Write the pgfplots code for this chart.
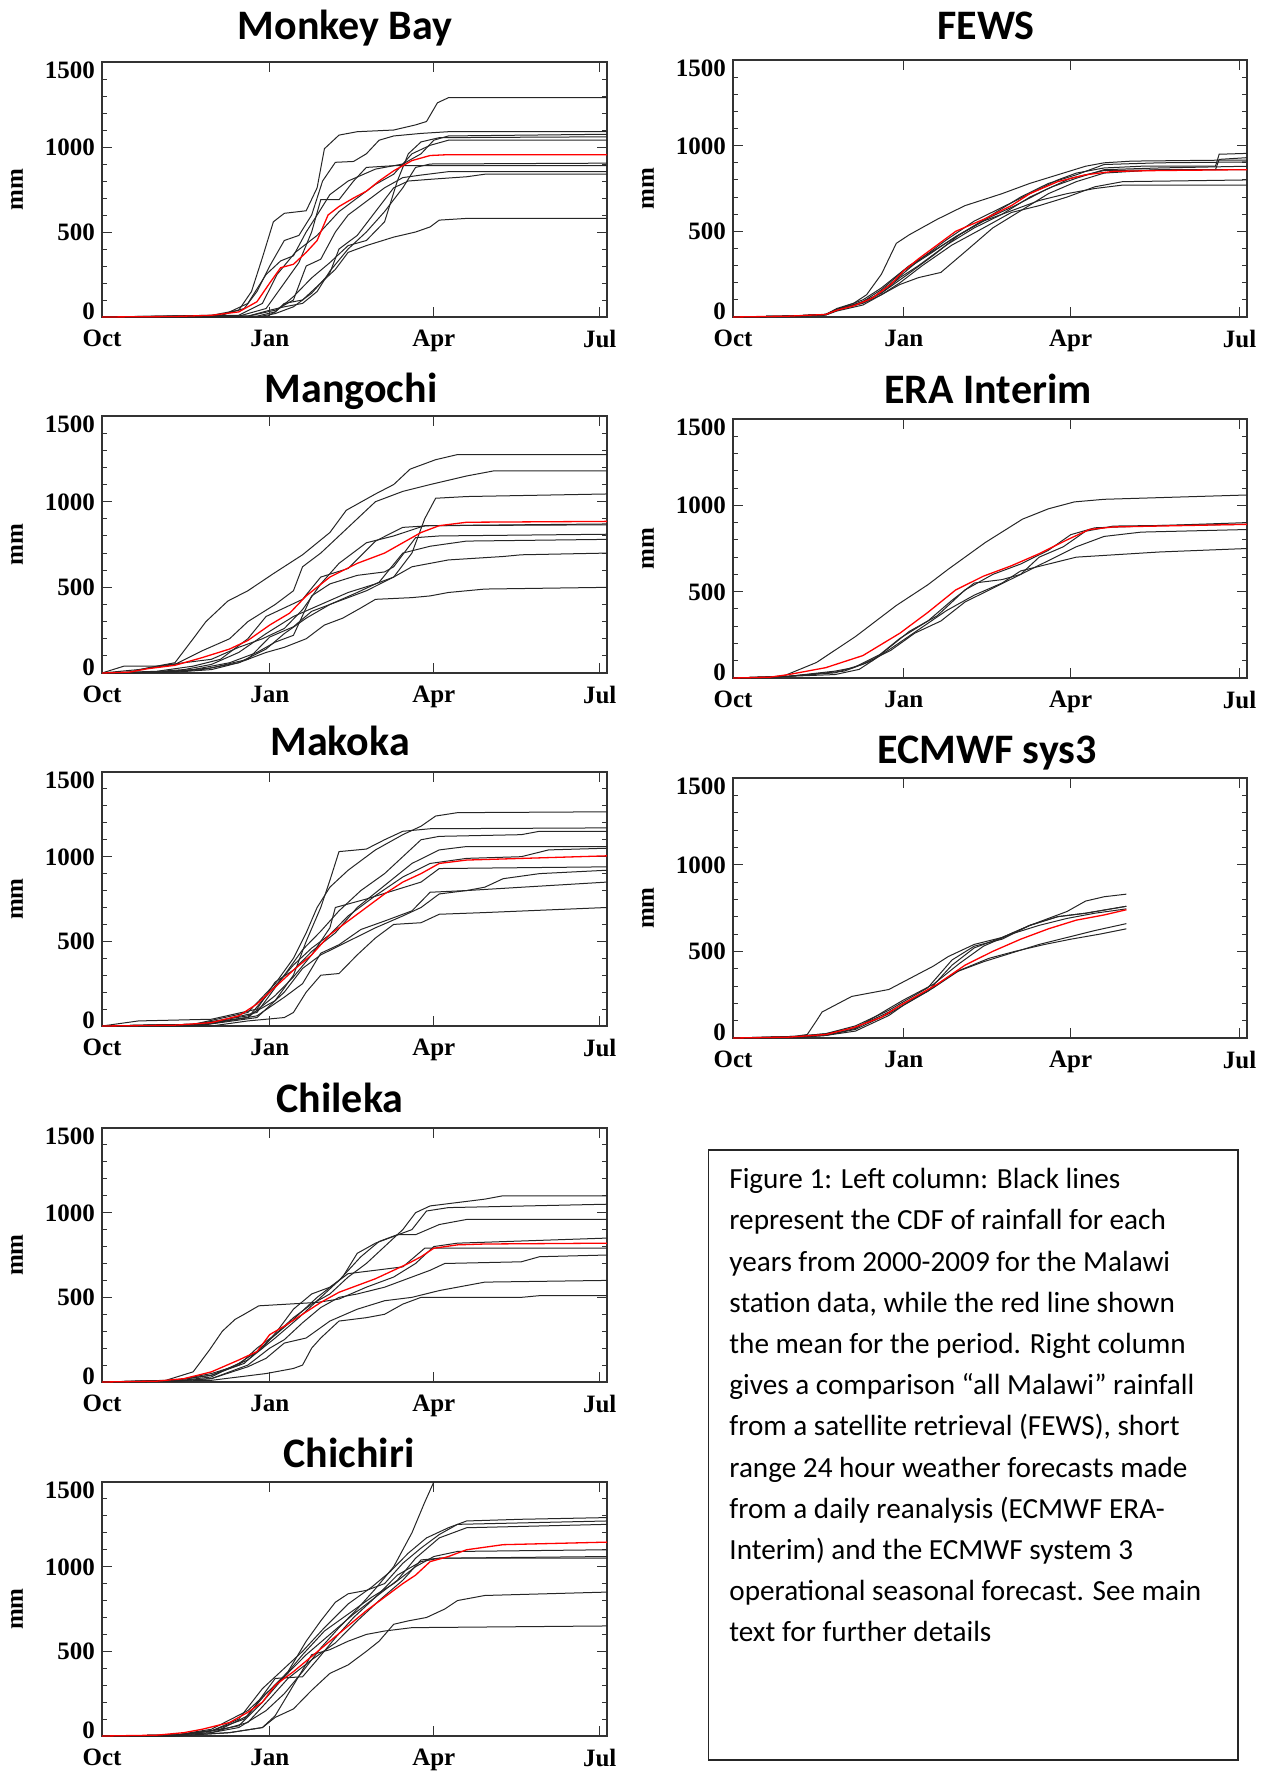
\documentclass[border=0pt]{standalone}
\usepackage{fontspec}
\setmainfont{Carlito}
\newfontfamily\tickfont{Liberation Serif}
\usepackage{pgfplots}
\pgfplotsset{compat=1.18}
\newcommand{\yl}[2]{\smash{\raisebox{#1}{#2}}}
\newcommand{\tf}{\tickfont\bfseries\fontsize{12.5}{14}\selectfont}
\newcommand{\ttl}{\bfseries\fontsize{21}{25}\selectfont}
\pgfplotsset{
  panel/.style={
    scale only axis, anchor=north west,
    xmin=0, xmax=277, ymin=0, ymax=1500,
    xtick={0,92,182,273}, xticklabels={Oct,Jan,Apr,Jul},
    ytick={0,500,1000,1500},
    yticklabels={\yl{-1pt}{0},\yl{-4.25pt}{500},\yl{-4.25pt}{1000},\yl{-8pt}{1500}},
    minor y tick num=4,
    tick align=inside, tick pos=both,
    major tick length=5pt, minor tick length=2.5pt,
    every tick/.style={black!80, line width=0.5pt},
    axis line style={black!80, line width=0.7pt},
    ticklabel style={font=\tf},
    xticklabel style={yshift=-3pt},
    ylabel={mm},
    every axis y label/.style={at={(axis description cs:0,0.5)}, xshift=-42.5pt, rotate=90, anchor=center, font=\tf},
    clip=true,
  },
  yr/.style={black!85, line width=0.5pt},
  mn/.style={red, line width=0.65pt},
}
\begin{document}
\begin{tikzpicture}
\useasboundingbox (0pt,0pt) rectangle (636pt,-887pt);
% titles
\node[anchor=base, font=\ttl] at (172.5pt,-19.5pt) {Monkey Bay};
\node[anchor=base, font=\ttl] at (493pt,-19.5pt) {FEWS};
\node[anchor=base, font=\ttl] at (175.5pt,-201pt) {Mangochi};
\node[anchor=base, font=\ttl] at (494pt,-201.5pt) {ERA Interim};
\node[anchor=base, font=\ttl] at (170pt,-377.5pt) {Makoka};
\node[anchor=base, font=\ttl] at (493.5pt,-381.5pt) {ECMWF sys3};
\node[anchor=base, font=\ttl] at (170pt,-556pt) {Chileka};
\node[anchor=base, font=\ttl] at (174.5pt,-733.5pt) {Chichiri};

% Monkey Bay
\begin{axis}[panel, at={(51pt,-31pt)}, width=252.5pt, height=127.5pt]
\addplot[yr] coordinates {(0,0)(60,10)(75,40)(82,150)(88,350)(94,560)(100,610)(112,625)(118,760)(122,990)(130,1070)(140,1090)(160,1100)(172,1130)(178,1150)(184,1260)(190,1290)(277,1290)};
\addplot[yr] coordinates {(0,0)(65,10)(78,50)(85,150)(92,300)(100,450)(108,480)(115,600)(121,800)(128,910)(138,915)(145,960)(152,1040)(160,1065)(175,1080)(190,1090)(277,1090)};
\addplot[yr] coordinates {(0,0)(85,5)(95,30)(105,120)(115,230)(125,320)(135,420)(145,450)(155,560)(162,800)(168,960)(175,1030)(185,1055)(277,1060)};
\addplot[yr] coordinates {(0,0)(75,10)(88,80)(96,250)(106,380)(118,480)(130,620)(140,700)(150,780)(160,840)(170,960)(180,1010)(190,1040)(277,1040)};
\addplot[yr] coordinates {(0,0)(75,5)(90,50)(100,200)(108,320)(115,500)(120,690)(130,690)(138,800)(145,880)(160,890)(277,890)};
\addplot[yr] coordinates {(0,0)(80,5)(95,40)(105,100)(112,300)(120,340)(128,500)(135,600)(145,680)(155,760)(165,820)(175,835)(190,855)(277,855)};
\addplot[yr] coordinates {(0,0)(85,0)(95,20)(105,60)(115,140)(125,260)(130,400)(140,480)(150,620)(160,760)(168,800)(180,810)(200,825)(210,840)(277,840)};
\addplot[yr] coordinates {(0,0)(90,0)(95,30)(100,80)(110,100)(120,200)(128,280)(135,380)(145,420)(160,470)(172,500)(180,530)(185,570)(200,580)(277,580)};
\addplot[yr] coordinates {(0,0)(65,5)(80,80)(90,250)(98,330)(105,360)(112,500)(118,600)(125,720)(135,800)(150,870)(165,900)(175,960)(182,1040)(190,1065)(277,1075)};
\addplot[yr] coordinates {(0,0)(80,5)(92,40)(100,60)(110,80)(118,150)(125,270)(135,400)(145,500)(155,620)(165,760)(172,880)(180,900)(277,905)};
\addplot[mn] coordinates {(0,0)(40,3)(60,10)(75,30)(85,90)(92,200)(98,290)(105,310)(112,380)(118,450)(124,600)(130,650)(138,700)(145,740)(152,800)(160,860)(170,920)(180,950)(190,955)(277,955)};
\end{axis}

% FEWS
\begin{axis}[panel, at={(366.5pt,-30pt)}, width=257pt, height=128.5pt]
\addplot[yr] coordinates {(0,0)(30,5)(50,15)(56,50)(65,80)(72,130)(80,250)(88,430)(95,480)(110,570)(125,650)(145,720)(160,780)(175,830)(190,880)(200,900)(215,910)(260,915)(277,915)};
\addplot[yr] coordinates {(0,0)(30,5)(50,15)(56,45)(65,70)(75,110)(88,220)(100,330)(115,450)(130,560)(145,640)(160,720)(175,800)(185,840)(200,870)(220,880)(260,880)(262,950)(277,955)};
\addplot[yr] coordinates {(0,0)(30,5)(50,15)(56,40)(70,90)(80,140)(90,230)(100,300)(115,420)(130,520)(145,600)(160,700)(172,760)(185,810)(200,860)(230,870)(277,880)};
\addplot[yr] coordinates {(0,0)(30,5)(50,15)(56,40)(70,80)(80,130)(90,190)(100,230)(112,260)(125,380)(140,520)(155,620)(170,720)(185,790)(200,840)(230,860)(277,860)};
\addplot[yr] coordinates {(0,0)(30,5)(50,12)(56,35)(70,70)(80,130)(90,200)(102,300)(118,420)(135,520)(150,610)(165,650)(180,700)(195,760)(210,790)(277,800)};
\addplot[yr] coordinates {(0,0)(30,5)(50,12)(56,40)(70,90)(80,160)(92,270)(105,360)(120,470)(135,560)(150,620)(165,680)(180,720)(195,750)(210,770)(277,770)};
\addplot[yr] coordinates {(0,0)(30,5)(50,15)(56,45)(70,100)(80,170)(95,300)(110,400)(125,500)(140,600)(155,700)(170,780)(185,830)(200,890)(230,900)(277,905)};
\addplot[yr] coordinates {(0,0)(30,5)(50,12)(56,40)(70,85)(80,140)(93,240)(108,360)(122,480)(138,580)(152,650)(168,740)(182,810)(200,855)(240,860)(260,860)(262,920)(277,930)};
\addplot[mn] coordinates {(0,0)(30,5)(50,15)(56,40)(65,65)(75,110)(85,190)(92,270)(100,340)(110,420)(120,500)(135,570)(150,650)(160,720)(175,790)(190,830)(205,850)(230,855)(277,860)};
\end{axis}

% Mangochi
\begin{axis}[panel, at={(51pt,-208pt)}, width=252.5pt, height=128.5pt]
\addplot[yr] coordinates {(0,0)(15,5)(25,30)(40,60)(50,200)(57,300)(69,420)(80,480)(94,580)(110,690)(125,820)(134,950)(150,1045)(160,1100)(169,1190)(183,1245)(195,1275)(277,1275)};
\addplot[yr] coordinates {(0,0)(20,20)(40,50)(55,130)(70,200)(80,300)(95,400)(105,480)(110,620)(120,700)(130,800)(140,900)(150,1000)(165,1060)(180,1100)(200,1150)(215,1180)(277,1180)};
\addplot[yr] coordinates {(0,0)(25,5)(45,20)(60,50)(75,120)(90,230)(105,330)(120,400)(135,470)(150,520)(160,560)(170,700)(177,900)(183,1020)(200,1030)(277,1045)};
\addplot[yr] coordinates {(0,0)(30,10)(50,40)(65,80)(80,200)(90,330)(100,380)(110,430)(120,560)(135,610)(150,770)(165,850)(180,860)(277,870)};
\addplot[yr] coordinates {(0,0)(30,5)(50,20)(70,60)(85,120)(95,180)(105,220)(115,450)(125,520)(140,570)(155,590)(160,620)(172,790)(185,800)(277,810)};
\addplot[yr] coordinates {(0,0)(35,5)(55,20)(75,60)(90,140)(100,230)(112,320)(125,400)(140,470)(152,530)(165,700)(180,740)(200,770)(277,780)};
\addplot[yr] coordinates {(0,0)(35,5)(60,30)(80,80)(92,210)(105,270)(115,360)(130,420)(145,480)(160,560)(170,620)(190,660)(220,680)(230,690)(277,700)};
\addplot[yr] coordinates {(0,0)(40,5)(60,20)(75,60)(90,120)(100,150)(112,200)(122,280)(132,320)(142,380)(150,430)(170,440)(180,450)(190,470)(210,490)(277,500)};
\addplot[yr] coordinates {(0,0)(12,40)(30,40)(45,60)(60,80)(75,150)(88,200)(100,260)(110,370)(120,520)(130,640)(145,760)(160,800)(177,860)(277,865)};
\addplot[mn] coordinates {(0,0)(15,5)(25,25)(40,45)(55,90)(70,140)(80,190)(92,280)(103,350)(112,450)(125,560)(140,640)(155,700)(165,760)(175,820)(185,860)(200,880)(277,885)};
\end{axis}

% ERA Interim
\begin{axis}[panel, at={(366.5pt,-209.5pt)}, width=257pt, height=129.5pt]
\addplot[yr] coordinates {(0,0)(20,5)(28,15)(45,90)(66,240)(88,420)(105,540)(116,630)(136,785)(156,920)(170,980)(184,1020)(200,1035)(277,1060)};
\addplot[yr] coordinates {(0,0)(30,10)(55,40)(65,60)(80,140)(95,270)(110,360)(125,510)(140,600)(155,660)(170,740)(182,830)(195,870)(277,900)};
\addplot[yr] coordinates {(0,0)(30,10)(55,30)(70,80)(85,160)(98,260)(112,330)(125,440)(140,520)(155,600)(170,680)(185,760)(200,820)(220,845)(277,860)};
\addplot[yr] coordinates {(0,0)(30,10)(55,20)(68,50)(85,170)(100,280)(115,390)(130,480)(145,550)(155,620)(170,660)(185,700)(200,710)(230,730)(277,750)};
\addplot[yr] coordinates {(0,0)(30,10)(60,40)(75,100)(90,230)(105,330)(118,450)(130,550)(145,570)(155,600)(165,700)(178,760)(190,850)(205,880)(277,890)};
\addplot[mn] coordinates {(0,0)(20,5)(30,20)(50,60)(70,130)(90,260)(105,380)(120,510)(135,590)(150,650)(165,720)(180,800)(192,860)(205,875)(277,890)};
\end{axis}

% Makoka
\begin{axis}[panel, at={(51pt,-386pt)}, width=252.5pt, height=127pt]
\addplot[yr] coordinates {(0,0)(50,10)(80,80)(95,250)(105,400)(112,550)(118,700)(125,820)(135,920)(150,1040)(165,1130)(175,1180)(183,1240)(195,1260)(277,1265)};
\addplot[yr] coordinates {(0,0)(50,10)(80,60)(95,150)(105,300)(112,500)(120,700)(125,860)(130,1030)(145,1045)(155,1100)(165,1150)(180,1165)(277,1170)};
\addplot[yr] coordinates {(0,0)(55,10)(85,80)(100,300)(110,450)(120,560)(130,680)(142,800)(155,900)(165,1000)(175,1100)(185,1120)(230,1130)(240,1150)(277,1150)};
\addplot[yr] coordinates {(0,0)(20,30)(60,40)(85,100)(95,260)(105,330)(115,440)(128,550)(140,700)(155,830)(170,960)(185,1040)(200,1060)(277,1060)};
\addplot[yr] coordinates {(0,0)(55,10)(80,50)(92,200)(105,360)(115,460)(125,540)(135,650)(150,770)(165,880)(180,960)(200,990)(230,1000)(245,1040)(277,1050)};
\addplot[yr] coordinates {(0,0)(50,10)(80,50)(95,180)(105,290)(115,420)(125,580)(128,700)(145,750)(160,800)(175,850)(185,930)(277,940)};
\addplot[yr] coordinates {(0,0)(55,5)(85,50)(100,200)(110,340)(120,420)(135,500)(150,580)(165,650)(175,700)(185,780)(200,800)(210,820)(220,870)(240,900)(277,920)};
\addplot[yr] coordinates {(0,0)(55,5)(85,60)(100,170)(110,250)(120,430)(130,480)(142,570)(155,620)(170,680)(180,790)(200,800)(277,850)};
\addplot[yr] coordinates {(0,0)(60,0)(80,30)(100,50)(105,80)(112,200)(120,300)(130,310)(140,420)(150,520)(160,600)(175,610)(185,660)(210,670)(277,700)};
\addplot[mn] coordinates {(0,0)(40,5)(60,20)(75,60)(85,130)(95,230)(105,330)(115,420)(125,540)(135,620)(145,700)(155,780)(165,850)(175,900)(185,960)(200,980)(277,1005)};
\end{axis}

% ECMWF sys3
\begin{axis}[panel, at={(366.5pt,-389pt)}, width=257pt, height=130pt]
\addplot[yr] coordinates {(0,0)(30,5)(40,20)(45,100)(48,150)(64,240)(84,280)(100,370)(108,415)(116,470)(130,540)(145,580)(160,650)(175,700)(190,720)(212,760)};
\addplot[yr] coordinates {(0,0)(35,10)(50,25)(66,70)(84,160)(92,210)(105,290)(118,450)(130,530)(145,570)(160,650)(175,700)(190,720)(212,760)};
\addplot[yr] coordinates {(0,0)(35,10)(50,25)(66,60)(84,150)(92,200)(105,270)(118,420)(130,520)(145,580)(160,650)(170,690)(180,730)(190,790)(200,815)(212,830)};
\addplot[yr] coordinates {(0,0)(35,5)(50,15)(66,50)(84,140)(92,190)(105,270)(120,380)(135,440)(150,490)(165,540)(180,580)(195,620)(212,660)};
\addplot[yr] coordinates {(0,0)(35,5)(50,15)(66,40)(84,130)(92,190)(108,290)(122,390)(138,460)(152,500)(168,540)(182,570)(198,600)(212,630)};
\addplot[yr] coordinates {(0,0)(35,5)(50,15)(66,55)(84,170)(92,220)(108,310)(122,430)(135,530)(150,600)(165,650)(180,690)(195,720)(212,745)};
\addplot[mn] coordinates {(0,0)(30,5)(50,20)(65,60)(80,120)(92,200)(110,310)(125,420)(140,500)(155,570)(170,630)(185,680)(200,710)(212,740)};
\end{axis}

% Chileka
\begin{axis}[panel, at={(51pt,-564pt)}, width=252.5pt, height=127pt]
\addplot[yr] coordinates {(0,0)(40,10)(60,50)(75,100)(85,200)(95,280)(105,380)(115,460)(125,520)(135,620)(145,700)(155,800)(165,900)(172,1000)(180,1040)(195,1060)(210,1080)(220,1100)(277,1100)};
\addplot[yr] coordinates {(0,0)(40,10)(60,40)(80,130)(95,260)(108,380)(120,500)(132,620)(140,760)(150,820)(160,860)(170,900)(178,1010)(190,1030)(277,1050)};
\addplot[yr] coordinates {(0,0)(40,10)(60,40)(78,110)(92,250)(105,370)(118,500)(130,600)(142,740)(152,830)(162,870)(172,870)(185,930)(200,960)(277,960)};
\addplot[yr] coordinates {(0,0)(35,10)(50,60)(59,190)(66,300)(73,370)(78,400)(86,450)(118,470)(130,490)(145,560)(160,620)(172,700)(182,800)(195,820)(277,850)};
\addplot[yr] coordinates {(0,0)(40,5)(60,30)(75,110)(88,200)(96,300)(105,430)(115,520)(125,560)(135,640)(150,660)(165,680)(177,790)(277,790)};
\addplot[yr] coordinates {(0,0)(40,5)(60,20)(80,100)(92,200)(100,250)(110,350)(120,440)(130,500)(140,520)(155,560)(170,620)(180,660)(188,700)(230,710)(240,740)(277,750)};
\addplot[yr] coordinates {(0,0)(40,5)(60,20)(80,90)(90,140)(100,230)(112,260)(125,360)(140,430)(155,480)(170,500)(185,540)(200,570)(210,590)(277,600)};
\addplot[yr] coordinates {(0,0)(40,5)(60,10)(75,30)(90,50)(105,80)(110,100)(115,200)(120,260)(130,360)(145,380)(155,400)(165,460)(175,500)(230,500)(240,510)(277,510)};
\addplot[mn] coordinates {(0,0)(30,5)(45,20)(60,60)(75,130)(85,180)(92,280)(100,330)(110,400)(120,470)(130,530)(140,570)(150,610)(160,660)(168,700)(175,740)(182,790)(195,810)(210,815)(277,820)};
\end{axis}

% Chichiri
\begin{axis}[panel, at={(51pt,-741pt)}, width=252.5pt, height=127pt]
\addplot[yr] coordinates {(0,0)(40,5)(60,20)(75,50)(90,150)(100,250)(110,380)(120,520)(130,640)(140,750)(150,870)(160,1000)(170,1200)(177,1380)(182,1500)(185,1560)};
\addplot[yr] coordinates {(0,0)(40,5)(60,30)(75,100)(88,280)(98,380)(110,500)(122,640)(135,780)(148,880)(158,970)(168,1080)(178,1170)(190,1230)(200,1270)(230,1280)(277,1290)};
\addplot[yr] coordinates {(0,0)(40,5)(60,40)(80,150)(92,270)(102,380)(112,560)(120,680)(128,790)(135,840)(145,860)(155,900)(165,1020)(175,1110)(185,1190)(195,1250)(277,1270)};
\addplot[yr] coordinates {(0,0)(40,5)(60,30)(75,60)(88,200)(100,350)(112,480)(125,600)(138,720)(150,820)(162,920)(172,1050)(185,1170)(200,1230)(277,1250)};
\addplot[yr] coordinates {(0,0)(40,5)(60,30)(78,100)(90,250)(100,350)(110,480)(122,620)(135,720)(148,820)(160,900)(172,1000)(182,1060)(195,1090)(277,1100)};
\addplot[yr] coordinates {(0,0)(40,5)(60,20)(80,80)(92,220)(102,340)(115,450)(128,550)(140,680)(152,800)(165,920)(175,1040)(185,1050)(277,1060)};
\addplot[yr] coordinates {(0,0)(40,5)(65,40)(80,120)(95,340)(110,350)(118,450)(128,580)(138,700)(150,820)(162,950)(175,1030)(185,1050)(277,1050)};
\addplot[yr] coordinates {(0,0)(40,0)(70,20)(88,50)(95,110)(105,160)(115,270)(125,370)(135,420)(145,500)(152,560)(160,660)(168,680)(178,700)(188,750)(195,800)(210,830)(277,850)};
\addplot[yr] coordinates {(0,0)(40,0)(70,20)(88,50)(95,120)(105,300)(115,480)(125,510)(135,560)(145,600)(155,620)(170,640)(277,650)};
\addplot[mn] coordinates {(0,0)(30,5)(45,20)(55,40)(70,80)(80,140)(88,200)(95,300)(105,380)(115,470)(125,560)(135,650)(145,740)(155,820)(165,900)(172,950)(180,1030)(190,1060)(200,1100)(220,1130)(277,1145)};
\end{axis}

% caption box
\draw[black!85, line width=0.75pt] (354.25pt,-575pt) rectangle (619pt,-880pt);
\node[anchor=base west, inner sep=0pt] at (364.5pt,-594.3pt) {\parbox[t]{252pt}{\raggedright\fontsize{14.6}{20.6}\selectfont
Figure 1: Left column: Black lines\\
represent the CDF of rainfall for each\\
years from 2000-2009 for the Malawi\\
station data, while the red line shown\\
the mean for the period. Right column\\
gives a comparison “all Malawi” rainfall\\
from a satellite retrieval (FEWS), short\\
range 24 hour weather forecasts made\\
from a daily reanalysis (ECMWF ERA-\\
Interim) and the ECMWF system 3\\
operational seasonal forecast. See main\\
text for further details}};
\end{tikzpicture}
\end{document}
